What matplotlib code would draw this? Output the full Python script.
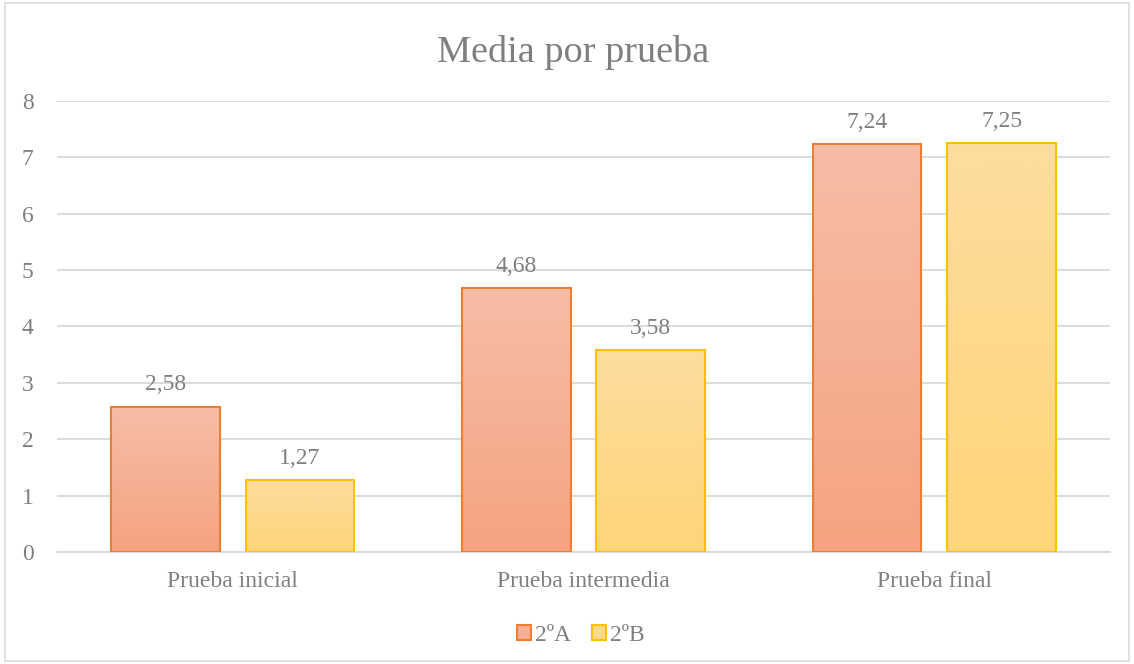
import numpy as np
import matplotlib.pyplot as plt
from matplotlib.patches import Rectangle
from matplotlib.colors import LinearSegmentedColormap

categorias = ["Prueba inicial", "Prueba intermedia", "Prueba final"]
grupo_a = [2.58, 4.68, 7.24]
grupo_b = [1.27, 3.58, 7.25]
series = ["2ºA", "2ºB"]

plt.rcParams['font.family'] = ['Liberation Serif', 'DejaVu Serif']

fig = plt.figure(figsize=(11.34, 6.64), dpi=100)
ax = fig.add_axes([0.0503, 0.1687, 0.9285, 0.6792])

# marco del gráfico
fig.patches.append(Rectangle((0.004, 0.004), 0.992, 0.992, transform=fig.transFigure,
                             fill=False, edgecolor="#D9D9D9", linewidth=1.2))

x = np.arange(len(categorias))
ancho = 0.31
desp = 0.192

estilos = [
    (grupo_a, -desp, "#ED7D31", "#F7BDA6", "#F5A381"),
    (grupo_b, desp, "#FFC000", "#FEDD9E", "#FED57A"),
]

for vals, d, borde, arriba, abajo in estilos:
    cmap = LinearSegmentedColormap.from_list("g", [abajo, arriba])
    grad = np.linspace(0, 1, 256).reshape(-1, 1)
    bars = ax.bar(x + d, vals, ancho, facecolor="none", edgecolor=borde, linewidth=1.5, zorder=3)
    for b, v in zip(bars, vals):
        x0 = b.get_x()
        im = ax.imshow(grad, cmap=cmap, origin="lower", aspect="auto",
                       extent=[x0, x0 + ancho, 0, v], zorder=2)
        im.set_clip_path(b)
        ax.text(x0 + ancho / 2, v + 0.2, f"{v:.2f}".replace(".", ","), ha="center", va="bottom",
                fontsize=17, color="#7F7F7F")

ax.set_xlim(-0.5, 2.5)
ax.set_ylim(0, 8)
ax.set_yticks(range(0, 9))
ax.set_xticks(x)
ax.set_xticklabels(categorias)
ax.tick_params(axis="both", length=0, labelsize=17, labelcolor="#7F7F7F")
ax.tick_params(axis="y", pad=17)
ax.tick_params(axis="x", pad=14)
ax.grid(axis="y", color="#D9D9D9", linewidth=1.3, zorder=0)
for s in ["top", "right", "left"]:
    ax.spines[s].set_visible(False)
ax.spines["bottom"].set_color("#D9D9D9")
ax.spines["bottom"].set_linewidth(1.3)

fig.text(0.505, 0.921, "Media por prueba", ha="center", va="center", fontsize=27.5, color="#7F7F7F")

handles = [Rectangle((0, 0), 1, 1, facecolor="#F6AF92", edgecolor="#ED7D31", linewidth=1.5),
           Rectangle((0, 0), 1, 1, facecolor="#FED98C", edgecolor="#FFC000", linewidth=1.5)]
leg = fig.legend(handles, series, loc="center", bbox_to_anchor=(0.512, 0.043), ncol=2, frameon=False,
                 fontsize=17, handlelength=0.6, handleheight=0.6, handletextpad=0.15, columnspacing=0.9)
for t in leg.get_texts():
    t.set_color("#7F7F7F")

fig.savefig("out.png", dpi=100)
